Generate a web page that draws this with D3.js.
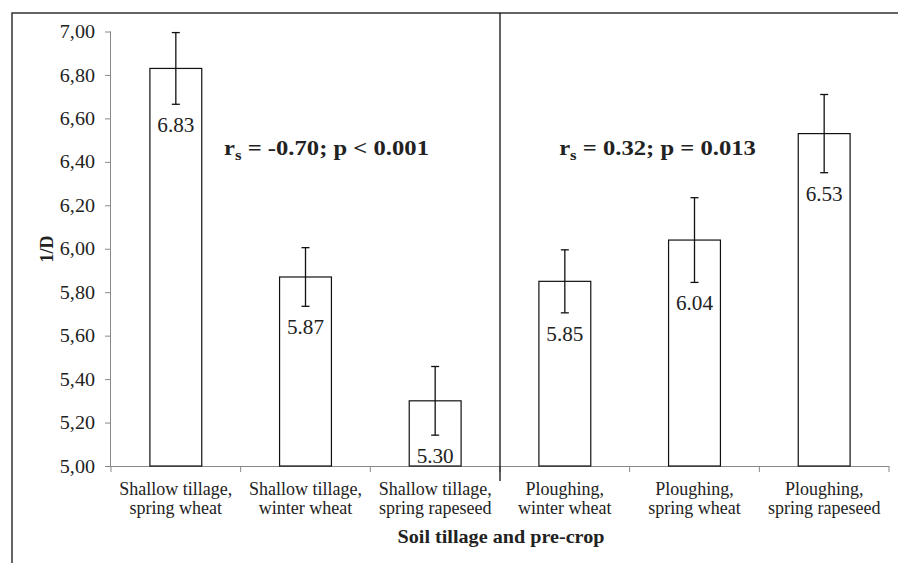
<!DOCTYPE html>
<html>
<head>
<meta charset="utf-8">
<script src="https://cdn.jsdelivr.net/npm/d3@7/dist/d3.min.js"></script>
<style>
  body { margin: 0; background: #fff; }
  text { font-family: "Liberation Serif", "Times New Roman", serif; fill: #222; }
</style>
</head>
<body>
<svg id="chart" width="898" height="563"></svg>
<script>
// Chart data
var categories = [
    ["Shallow tillage,", "spring wheat"],
    ["Shallow tillage,", "winter wheat"],
    ["Shallow tillage,", "spring rapeseed"],
    ["Ploughing,", "winter wheat"],
    ["Ploughing,", "spring wheat"],
    ["Ploughing,", "spring rapeseed"]
];
var values = [6.83, 5.87, 5.30, 5.85, 6.04, 6.53];
var errors = [0.165, 0.135, 0.158, 0.145, 0.195, 0.18];
var yTicks = [5.0, 5.2, 5.4, 5.6, 5.8, 6.0, 6.2, 6.4, 6.6, 6.8, 7.0];
var stats = [
    {r: "-0.70", p: "p < 0.001"},
    {r: "0.32", p: "p = 0.013"}
];

var svg = d3.select("#chart");

// Plot area
var plot = {left: 111, right: 889, top: 31.5, bottom: 466};
var stretch = 1.12;   // the original text is a bit wide for its height

var x = d3.scaleBand()
    .domain(d3.range(categories.length))
    .range([plot.left, plot.right])
    .paddingInner(0.6)
    .paddingOuter(0.3);

var y = d3.scaleLinear()
    .domain([5, 7])
    .range([plot.bottom, plot.top]);

var commaFmt = d3.formatLocale({decimal: ",", thousands: ".", grouping: [3], currency: ["", ""]}).format(".2f");

function mid(i) { return x(i) + x.bandwidth() / 2; }

// Outer frame
svg.append("path")
    .attr("d", "M12,570 L12,13 L905,13")
    .attr("fill", "none")
    .attr("stroke", "#333")
    .attr("stroke-width", 1.5);

// Y axis
var yAxis = svg.append("g")
    .attr("transform", "translate(" + plot.left + ",0)")
    .call(d3.axisLeft(y).tickValues(yTicks).tickFormat(commaFmt).tickSize(6).tickPadding(10));
yAxis.select(".domain").attr("stroke", "#888").attr("d", "M-0.5," + plot.top + "V" + plot.bottom);
yAxis.selectAll(".tick line").attr("stroke", "#888");
yAxis.selectAll(".tick text")
    .style("font-size", "19px")
    .attr("fill", "#222")
    .attr("x", 0)
    .attr("transform", "translate(-16,0) scale(1.06,1)");

// X axis line with category boundary ticks
var step = x.step();
svg.append("line")
    .attr("x1", plot.left).attr("x2", plot.right)
    .attr("y1", plot.bottom + 0.5).attr("y2", plot.bottom + 0.5)
    .attr("stroke", "#888");
svg.selectAll(".catTick")
    .data(d3.range(categories.length + 1))
    .enter().append("line")
    .attr("class", "catTick")
    .attr("x1", function(i) { return plot.left + i * step; })
    .attr("x2", function(i) { return plot.left + i * step; })
    .attr("y1", plot.bottom)
    .attr("y2", plot.bottom + 6)
    .attr("stroke", "#888");

// Category labels, two lines each
[0, 1].forEach(function(line) {
    svg.selectAll(".catLabel" + line)
        .data(categories)
        .enter().append("text")
        .attr("class", "catLabel" + line)
        .attr("text-anchor", "middle")
        .attr("x", function(d, i) { return mid(i); })
        .attr("y", 495 + line * 18.5)
        .style("font-size", "18px")
        .text(function(d) { return d[line]; });
});

// Bars
svg.selectAll(".bar")
    .data(values)
    .enter().append("rect")
    .attr("class", "bar")
    .attr("x", function(d, i) { return x(i); })
    .attr("y", function(d) { return y(d); })
    .attr("width", x.bandwidth())
    .attr("height", function(d) { return plot.bottom - y(d); })
    .attr("fill", "#fff")
    .attr("stroke", "#111")
    .attr("stroke-width", 1.2);

// Error bars
var err = svg.selectAll(".err")
    .data(values)
    .enter().append("g")
    .attr("class", "err")
    .attr("stroke", "#111")
    .attr("stroke-width", 1.3);
err.append("line")
    .attr("x1", function(d, i) { return mid(i); })
    .attr("x2", function(d, i) { return mid(i); })
    .attr("y1", function(d, i) { return y(d + errors[i]); })
    .attr("y2", function(d, i) { return y(d - errors[i]); });
[1, -1].forEach(function(sign) {
    err.append("line")
        .attr("x1", function(d, i) { return mid(i) - 4; })
        .attr("x2", function(d, i) { return mid(i) + 4; })
        .attr("y1", function(d, i) { return y(d + sign * errors[i]); })
        .attr("y2", function(d, i) { return y(d + sign * errors[i]); });
});

// Value labels below the error bars
svg.selectAll(".valLabel")
    .data(values)
    .enter().append("text")
    .attr("class", "valLabel")
    .attr("text-anchor", "middle")
    .attr("transform", function(d, i) {
        return "translate(" + mid(i) + "," + (y(d - errors[i]) + 28) + ") scale(1.06,1)";
    })
    .style("font-size", "20px")
    .text(function(d) { return d3.format(".2f")(d); });

// Divider between tillage groups
svg.append("line")
    .attr("x1", plot.left + 3 * step).attr("x2", plot.left + 3 * step)
    .attr("y1", 13).attr("y2", 481)
    .attr("stroke", "#111")
    .attr("stroke-width", 1.3);

// Correlation annotations, one per group
var statX = [mid(1) + 21, mid(4) - 37];
stats.forEach(function(s, i) {
    var t = svg.append("text")
        .attr("transform", "translate(" + statX[i] + ",155) scale(" + stretch + ",1)")
        .attr("text-anchor", "middle")
        .style("font-size", "22px")
        .style("font-weight", "bold");
    t.append("tspan").text("r");
    t.append("tspan").attr("dy", 5).style("font-size", "15px").text("s");
    t.append("tspan").attr("dy", -5).text(" = " + s.r + "; " + s.p);
});

// Axis titles
svg.append("text")
    .attr("transform", "translate(501,543) scale(" + stretch + ",1)")
    .attr("text-anchor", "middle")
    .style("font-size", "18px")
    .style("font-weight", "bold")
    .text("Soil tillage and pre-crop");

svg.append("text")
    .attr("transform", "translate(53,249) rotate(-90)")
    .attr("text-anchor", "middle")
    .style("font-size", "18px")
    .style("font-weight", "bold")
    .text("1/D");
</script>
</body>
</html>
